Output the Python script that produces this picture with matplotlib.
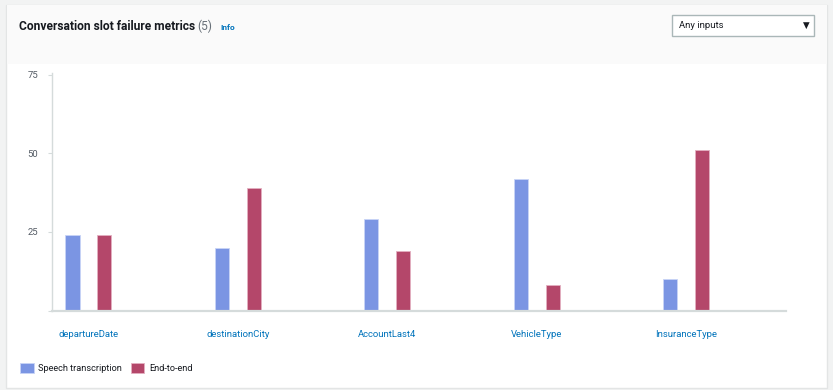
import matplotlib.pyplot as plt
from matplotlib.patches import Rectangle

plt.rcParams['font.family'] = ['Roboto', 'DejaVu Sans']

# ── Data ──────────────────────────────────────────────────────
slots = ["departureDate", "destinationCity", "AccountLast4",
         "VehicleType", "InsuranceType"]
speech_transcription = [24, 20, 29, 42, 10]
end_to_end = [24, 39, 19, 8, 51]
y_ticks = [0, 25, 50, 75]
y_tick_labels = ["", "25", "50", "75"]

# ── Style ─────────────────────────────────────────────────────
W, H = 833, 390
BLUE = "#7b95e3"
RED = "#b4476a"
LINK = "#0073bb"
DARK = "#16191f"
GREY = "#687078"
AXIS = "#d5dbdb"


def px(x, y):
    """pixel (top-left origin) -> figure fraction"""
    return x / W, 1 - y / H


fig = plt.figure(figsize=(W / 100, H / 100), dpi=100)
fig.patch.set_facecolor("#f2f3f3")

# card + header band (behind the axes)
fig.patches.append(Rectangle((6 / W, 1 - 388 / H), 821 / W, 383 / H,
                             transform=fig.transFigure, facecolor="white",
                             edgecolor="#e3e5e5", linewidth=1, zorder=-3))
fig.patches.append(Rectangle((6.5 / W, 1 - 64 / H), 820 / W, 58.5 / H,
                             transform=fig.transFigure, facecolor="#fafafa",
                             edgecolor="none", zorder=-2))

# header texts
fig.text(*px(19, 26), "Conversation slot failure metrics", fontsize=8.65,
         fontweight="bold", color=DARK, va="center", ha="left")
fig.text(*px(197, 26), "(5)", fontsize=8.65, color=GREY, va="center",
         ha="left")
fig.text(*px(220, 27), "Info", fontsize=6.0, fontweight="bold", color=LINK,
         va="center", ha="left")

# dropdown
fig.patches.append(Rectangle((672 / W, 1 - 36 / H), 142 / W, 21 / H,
                             transform=fig.transFigure, facecolor="white",
                             edgecolor="#aab7b8", linewidth=1, zorder=-1))
fig.text(*px(679, 25.5), "Any inputs", fontsize=6.8, color=DARK,
         va="center", ha="left")
fig.text(*px(806, 25.5), "▼", fontsize=6.2, color=DARK, va="center",
         ha="center", family="DejaVu Sans")

# ── Chart ─────────────────────────────────────────────────────
ax = fig.add_axes([52 / W, 1 - 310.5 / H, 734 / W, 237.5 / H])
ax.set_facecolor("none")

x = list(range(len(slots)))
bw = 0.094
off = 0.107
ax.bar([i - off for i in x], speech_transcription, width=bw, color=BLUE,
       edgecolor="#c9d4f6", linewidth=0.6, label="Speech transcription",
       zorder=2)
ax.bar([i + off for i in x], end_to_end, width=bw, color=RED,
       edgecolor="#e3b0c1", linewidth=0.6, label="End-to-end", zorder=2)

ax.set_xlim(-0.244, 4.666)
ax.set_ylim(0, 75.6)

ax.set_yticks(y_ticks)
ax.set_yticklabels(y_tick_labels)
ax.set_xticks(x)
ax.set_xticklabels(slots)

for side in ("top", "right"):
    ax.spines[side].set_visible(False)
ax.spines["left"].set_color(AXIS)
ax.spines["left"].set_linewidth(1)
ax.spines["bottom"].set_color(AXIS)
ax.spines["bottom"].set_linewidth(1.6)

ax.tick_params(axis="y", length=3, width=0.8, color=AXIS, labelsize=6.8,
               labelcolor="#545b64", pad=7)
ax.tick_params(axis="x", length=0, labelsize=6.8, labelcolor=LINK, pad=14)

# legend
fig.legend(loc="center left", bbox_to_anchor=px(12, 368), ncol=2,
           frameon=False, fontsize=6.6, handlelength=1.45,
           handleheight=1.45, handletextpad=0.5, columnspacing=1.0,
           labelcolor=DARK)

fig.savefig("out.png", dpi=100, facecolor=fig.get_facecolor())
